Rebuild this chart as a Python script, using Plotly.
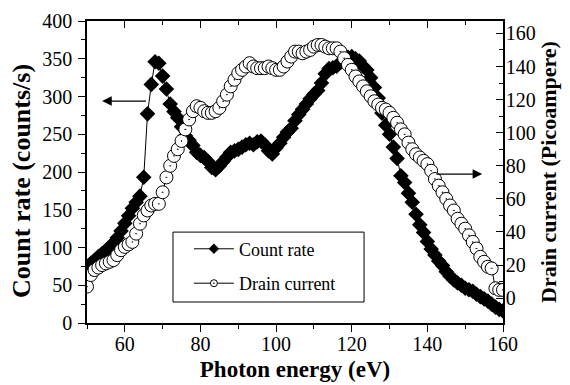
import plotly.graph_objects as go

# ---- data ----
count_energy = list(range(50, 161))
count_rate = [
    75, 79, 83, 88, 92, 96, 101, 106, 113, 122,
    132, 142, 152, 160, 168, 193, 277, 316, 346, 344,
    327, 310, 290, 280, 272, 260, 248, 242, 235, 226,
    222, 219, 214, 206, 203, 208, 214, 220, 226, 228,
    230, 233, 236, 238, 236, 240, 241, 236, 228, 224,
    232, 238, 246, 253, 258, 268, 276, 283, 290, 297,
    303, 308, 318, 330, 337, 338, 340, 345, 349, 352,
    353, 350, 347, 340, 335, 325, 312, 298, 278, 262,
    250, 233, 218, 195, 186, 172, 160, 144, 130, 120,
    108, 98, 90, 82, 76, 68, 62, 57, 53, 50,
    46, 44, 42, 38, 35, 32, 29, 25, 21, 18,
    16,
]

drain_energy = list(range(50, 161))
drain_current = [
    7, 14, 17, 18.5, 20, 21, 22, 23, 26, 29,
    31, 32.5, 34, 39, 45, 50, 53, 56, 57, 57,
    64, 73, 80, 86, 90, 95, 102, 108, 113, 116,
    115, 113, 112, 112, 113, 115, 119, 123, 128, 132,
    136, 138, 140, 142, 140, 139, 139, 139, 140, 139,
    138, 138, 140, 143, 146, 149, 149, 148, 149, 150,
    152, 153, 153, 152, 151, 151, 151, 149, 145, 141,
    138, 134, 131, 128, 125, 122, 119, 117, 115, 114,
    112, 109, 106, 102, 99, 94, 90, 87, 85, 83,
    81, 77, 72, 68, 64, 60, 56, 53, 48, 45,
    42, 38, 34, 30, 25, 22, 19, 18, 6, 5,
    5,
]

series_names = ["Count rate", "Drain current"]
x_title = "Photon energy (eV)"
y_title = "Count rate (counts/s)"
y2_title = "Drain current (Picoampere)"

FONT = "Liberation Serif, Times New Roman, serif"

fig = go.Figure()

fig.add_trace(go.Scatter(
    x=count_energy, y=count_rate, mode="lines+markers",
    line=dict(color="black", width=1),
    marker=dict(symbol="diamond", size=12, color="black", line=dict(width=0)),
    showlegend=False, xaxis="x", yaxis="y",
))
fig.add_trace(go.Scatter(
    x=drain_energy, y=drain_current, mode="lines+markers",
    line=dict(color="black", width=1),
    marker=dict(symbol="circle-dot", size=13, color="white",
                line=dict(color="black", width=1)),
    showlegend=False, xaxis="x2", yaxis="y2",
))

# legend entries (small markers as in the reference)
fig.add_trace(go.Scatter(
    x=[None], y=[None], mode="lines+markers", name=series_names[0],
    line=dict(color="black", width=1),
    marker=dict(symbol="diamond", size=8, color="black"),
    legendgroup="a",
))
fig.add_trace(go.Scatter(
    x=[None], y=[None], mode="lines+markers", name=series_names[1],
    line=dict(color="black", width=1),
    marker=dict(symbol="circle-dot", size=7, color="white",
                line=dict(color="black", width=1)),
    legendgroup="b",
))

axis_common = dict(showgrid=False, zeroline=False, showline=True,
                   linecolor="black", linewidth=1.5, tickcolor="black",
                   tickwidth=1.2, ticklen=7, automargin=False)

fig.update_layout(
    width=570, height=385,
    margin=dict(l=87, r=67, t=21, b=62, autoexpand=False),
    paper_bgcolor="white", plot_bgcolor="white",
    font=dict(family=FONT, size=20, color="black"),
    xaxis=dict(range=[50, 160], dtick=20, tick0=0, ticks="outside",
               minor=dict(dtick=10, ticks="outside", ticklen=4,
                          tickcolor="black", tickwidth=1.2),
               title=dict(text="<b>" + x_title + "</b>",
                          font=dict(size=23, family=FONT), standoff=7),
               tickfont=dict(size=20, family=FONT), ticklabelstandoff=-5,
               **axis_common),
    xaxis2=dict(range=[50, 160], overlaying="x", side="top", anchor="y2",
                dtick=20, tick0=0, ticks="inside", showticklabels=False,
                minor=dict(dtick=10, ticks="inside", ticklen=4,
                           tickcolor="black", tickwidth=1.2),
                **axis_common),
    yaxis=dict(range=[0, 400], dtick=50, tick0=0, ticks="outside",
               minor=dict(dtick=25, ticks="outside", ticklen=4,
                          tickcolor="black", tickwidth=1.2),
               tickfont=dict(size=20, family=FONT), ticklabelstandoff=2,
               **axis_common),
    yaxis2=dict(range=[-15, 167.5], dtick=20, tick0=0, ticks="inside",
                overlaying="y", side="right", anchor="x2",
                minor=dict(dtick=10, ticks="inside", ticklen=4,
                           tickcolor="black", tickwidth=1.2),
                title=dict(text="<b>" + y2_title + "</b>",
                           font=dict(size=22, family=FONT), standoff=4),
                tickfont=dict(size=20, family=FONT), ticklabelstandoff=-3,
                **axis_common),
    legend=dict(x=0.245, y=0.306, xanchor="left", yanchor="top",
                bgcolor="rgba(0,0,0,0)", borderwidth=0, itemwidth=40,
                font=dict(size=18, family=FONT), traceorder="grouped",
                tracegroupgap=8),
    showlegend=True,
)

# left axis title (placed as in the reference)
fig.add_annotation(text="<b>" + y_title + "</b>", xref="paper", yref="paper",
                   x=-0.159, y=0.47, xanchor="center", yanchor="middle",
                   textangle=-90, showarrow=False,
                   font=dict(size=26, family=FONT, color="black"))

# legend frame
fig.add_shape(type="rect", xref="paper", yref="paper",
              x0=0.2067, x1=0.666, y0=0.0695, y1=0.301,
              line=dict(color="black", width=1), fillcolor="rgba(0,0,0,0)",
              layer="above")

# arrows pointing to the respective axes
fig.add_annotation(x=54, y=294, ax=66, ay=294, xref="x", yref="y",
                   axref="x", ayref="y", showarrow=True, arrowhead=2,
                   arrowsize=1.6, arrowwidth=1.2, arrowcolor="black", text="")
fig.add_annotation(x=154.5, y=75, ax=142, ay=75, xref="x2", yref="y2",
                   axref="x2", ayref="y2", showarrow=True, arrowhead=2,
                   arrowsize=1.6, arrowwidth=1.2, arrowcolor="black", text="")

fig.write_html("out.html", config={"displayModeBar": False},
               post_script="document.body.style.margin='0';")
